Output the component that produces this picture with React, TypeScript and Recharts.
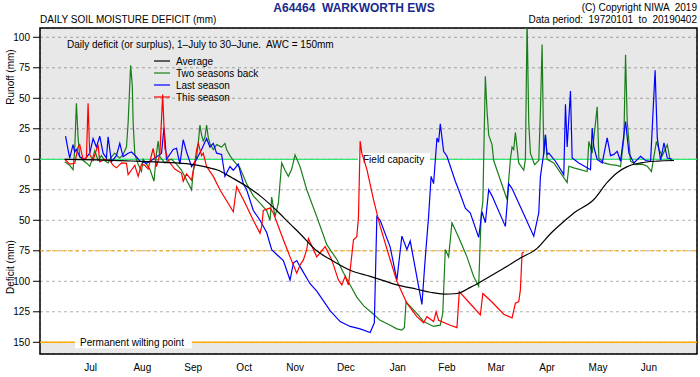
import React from "react";
import {
  LineChart,
  Line,
  XAxis,
  YAxis,
  CartesianGrid,
  ReferenceLine,
  ReferenceArea,
} from "recharts";

document.body.style.margin = "0";

const FONT = "Arial, 'Liberation Sans', Helvetica, sans-serif";

// days since 1 July
const monthStarts = [0, 31, 62, 92, 123, 153, 184, 215, 243, 274, 304, 335, 365];
const monthLabels = ["Jul", "Aug", "Sep", "Oct", "Nov", "Dec", "Jan", "Feb", "Mar", "Apr", "May", "Jun"];
const yTicks = [-150, -125, -100, -75, -50, -25, 0, 25, 50, 75, 100];

// [day, mm]  positive = runoff, negative = deficit
const average: [number, number][] = [
  [0, 0], [20, -0.5], [40, -1.4], [60, -2.5], [75, -4], [85, -6.5], [92, -9], [100, -15],
  [111, -24], [118, -31], [127, -42], [135, -53], [141, -61], [151, -75], [159, -82],
  [171, -91], [183, -96], [191, -99.5], [199, -103], [211, -106.5], [219, -109], [227, -110.5],
  [235, -110], [243, -105], [251, -99], [261, -91], [273, -81], [283, -73], [291, -61],
  [299, -51], [305, -44], [317, -33], [325, -19], [331, -11], [337, -6], [345, -3],
  [355, -1.5], [365, -1],
];

const twoSeasonsBack: [number, number][] = [
  [0, -2], [3, -5], [5, -8.5], [6, 8], [7, 46], [8, 18], [9, 2], [11, -1], [13, -3], [15, -5.6],
  [17, 2], [18, 7], [20, -1], [22, 3], [24, -1], [26, -3], [28, 2], [30, 5], [32, 2], [33, 1],
  [35, 4], [37, 10], [38, 30], [39.5, 77], [40.5, 60], [41, 30], [42, 4], [44, -4], [46, -10],
  [47, 0], [49, -4], [51, -8], [53.5, -18], [55, 5], [56, 15], [57, 2], [60, -3], [62, -1],
  [64, 0], [67, -4], [70, -9], [73, -17], [76, -25], [77, -10], [79, 2], [80, 13], [81, 28],
  [82, 20], [83, 15], [84, 18], [85, 28], [86, 18], [87, 13], [89, 8], [91, 12], [94, 10],
  [96, 13], [97, 8], [99, 3], [101, -1], [105, -7], [109, -20], [113, -30], [117, -36],
  [121, -42], [123, -50], [124, -31], [126, -47], [128, -36], [130, -3], [132, -9], [134, -14],
  [136, -8], [138, 3.5], [141, -6], [145, -25], [151, -47], [157, -70], [163, -82], [167, -93],
  [171, -103], [175, -113], [179, -120], [185, -127], [189, -132], [195, -136], [199, -139],
  [202, -140], [203.5, -138], [204.5, -117], [208, -122], [212, -128], [215, -133], [221, -137],
  [225, -136], [226.5, -126], [228, -74], [230, -80], [232, -52], [236, -64], [241, -80],
  [245, -96], [248, -104], [249.5, -45], [250.5, -35], [252, 68], [253, 40], [254, 20],
  [256, 12], [257, -1], [261, -17], [265, -33], [266, -17], [267, 0], [268, 10], [269, 8],
  [270, 22], [272, -3], [275, -9], [276, 0], [277, 115], [278, 30], [279, 5], [281.5, -4.4],
  [284, -1], [285, 40], [286, 94], [287, 4], [288, 20], [289, 0], [293, -3], [299, -15],
  [301, -19], [302, -5.7], [305, -7], [313, -10], [314, 14.7], [316, 5], [318, 30], [319, 43],
  [320, 1], [323, -3], [327, -4.4], [331, -5], [333, -6], [335, 17.5], [336, 85.7], [337, 31],
  [339, -1.6], [342, -4.4], [346, -4], [349, -5.7], [351.5, -10], [354.5, 14.7], [356, 8],
  [358, 3], [361, 12], [362.5, 1], [364, -1.6],
];

const lastSeason: [number, number][] = [
  [0.5, 19], [2, 8], [3, 1], [5, 12], [6, 6], [7, 8], [9, 2], [12, 0], [15, 5], [17, 17],
  [19, 10], [21, 19], [23, 5], [25, 1], [26, 18.5], [28, -2], [31, 3], [33, 13], [35, 2],
  [38, 5], [40, 6], [43, 2], [45, -1.5], [49, -3.3], [53, 0], [56, 3], [58, 5], [59.5, 26],
  [61, 0], [65, 8], [67, 9], [69, -4], [71, 16], [73, 6], [76, -6], [79, 0], [82, 8], [85, 17],
  [87, 10], [89, 13], [91, 5], [94, 4], [96, -14], [99, -6], [101, -9], [104, -4], [107, -20],
  [109, -25], [113, -42], [117, -50], [121, -60], [124, -74], [127, -78], [131, -83],
  [135, -99], [137, -85], [139, -83], [141, -88], [147, -102], [151, -108], [159, -124],
  [165, -133], [171, -137], [177, -139], [183, -142], [185.5, -134], [187, -47], [189, -50],
  [195, -72], [199, -99], [202, -63], [205, -74], [207, -67], [214, -119], [216, -81],
  [218, -47], [219.5, -14], [221, -20], [223, 17.5], [224, 14], [225, 29], [227, 6.6],
  [229, 2.5], [234, -18], [236, -25], [240, -40], [243, -44], [248, -64], [250, -43],
  [252, -52], [254, -25], [256, -30], [264, -55], [266, -20], [268, -24], [273, -39],
  [281, -63], [284, -44], [285, -14], [287, 5], [288, 20], [289, 4], [290, 5], [294, -1.6],
  [299, -12.6], [300, 45], [301, 10], [303, 56], [304, 1], [308, -3], [315, -8.5], [316, 25.6],
  [317, 10], [319, 0], [322, -3], [325, 17.5], [327, 3], [329, 4], [331, 6.6], [333, -1.6],
  [336, 31], [338, 5], [341, -3], [345, 2.5], [348, -1], [351, -1.6], [353.7, 73], [355, 17.5],
  [357, -1], [359, 13.4], [361, 1], [364, 0],
];

const thisSeason: [number, number][] = [
  [0, 0], [3, -4], [6, -3.3], [8, 10], [9, 12], [11, 0], [13, 1], [14, 46], [15, 4], [17, -1],
  [20, 12], [21, -2], [24, 0], [27, -1], [29, -5], [31, -7], [34, -3], [37, -3.3], [38, -12.6],
  [40, -8.8], [42, -5], [44, -14], [46, -4], [48, -5], [50, -8], [52, 3.5], [53, 9], [55, -6],
  [57, 4], [58.7, 53], [60, 9], [62, -1], [66, -8], [70, -11.5], [71, -18], [73, -12],
  [76, -17], [78, -2], [79, 7.6], [80, 13], [82, 3], [83, 5], [85, -6], [89, -14], [93, -25],
  [101, -43], [103, -22.5], [107, -33], [113, -50], [117, -60.6], [118, -55], [119, -42],
  [123, -40], [125, -44], [131, -66], [135, -80], [139, -93.4], [141, -86.6], [143, -82.5],
  [145, -74], [146, -65], [151, -80], [156, -71.6], [160, -82.5], [164, -99], [166, -103],
  [168, -96], [170, -103], [171, -91], [173, -66], [175, -63.4], [176, -47], [177, 15],
  [178, 5], [181, -8], [185, -33], [189, -55], [195, -82.5], [199, -100], [205, -118],
  [211, -129], [215, -134], [217, -129], [221, -133], [222.5, -125], [224, -132], [231, -136],
  [235, -138], [236.4, -108.5], [242, -117], [249, -127.6], [250.5, -110], [256, -117],
  [263, -127], [268, -130], [270, -118], [272, -116.7], [273, -107], [274, -77], [275, -76],
];

const X_DOMAIN: [number, number] = [-14.8, 378.8];
const Y_DOMAIN: [number, number] = [-159.6, 107.6];

const monthMids = monthLabels.map((_, i) => (monthStarts[i] + monthStarts[i + 1]) / 2);

const series = [
  { name: "Two seasons back", color: "#1a7d1a", data: twoSeasonsBack, type: "linear" },
  { name: "Last season", color: "#0000ff", data: lastSeason, type: "linear" },
  { name: "This season", color: "#ff0000", data: thisSeason, type: "linear" },
  { name: "Average", color: "#000000", data: average, type: "monotone" },
];
const legendOrder = ["Average", "Two seasons back", "Last season", "This season"];

const toPoints = (pts: [number, number][]) => pts.map(([d, v]) => ({ d, v }));

function BoxLabel({ viewBox, text, dx, w }: any) {
  const { x, y } = viewBox;
  return (
    <g>
      <rect x={x + dx} y={y - 6} width={w} height={12} fill="#fff" />
      <text x={x + dx + 5} y={y + 4} fontSize={10} fontFamily={FONT} fill="#000">
        {text}
      </text>
    </g>
  );
}

export default function App() {
  return (
    <div style={{ position: "relative", width: 700, height: 377, background: "#fff", fontFamily: FONT }}>
      <LineChart width={700} height={377} margin={{ top: 28, right: 3, bottom: 0, left: 0 }}>
        <ReferenceArea y1={0} y2={Y_DOMAIN[1]} fill="#000" fillOpacity={0.09} stroke="none" />
        <ReferenceArea y1={Y_DOMAIN[0]} y2={-150} fill="#000" fillOpacity={0.09} stroke="none" />
        <CartesianGrid strokeDasharray="3 3" stroke="#b0b0b0" />
        <XAxis
          dataKey="d"
          type="number"
          domain={X_DOMAIN}
          allowDataOverflow
          ticks={monthStarts}
          interval={0}
          tick={false}
          tickSize={5}
          tickLine={{ stroke: "#000" }}
          axisLine={false}
          height={6}
        />
        <XAxis
          xAxisId="m"
          dataKey="d"
          type="number"
          domain={X_DOMAIN}
          allowDataOverflow
          ticks={monthMids}
          interval={0}
          tickFormatter={(v: number) => monthLabels[monthMids.indexOf(v)]}
          tick={{ fill: "#000", fontSize: 10, fontFamily: FONT }}
          tickLine={false}
          tickSize={0}
          tickMargin={4}
          axisLine={false}
          height={17}
        />
        <YAxis
          type="number"
          domain={Y_DOMAIN}
          allowDataOverflow
          ticks={yTicks}
          interval={0}
          tickFormatter={(v: number) => String(Math.abs(v))}
          tick={{ fill: "#000", fontSize: 10, fontFamily: FONT }}
          tickLine={{ stroke: "#000" }}
          tickSize={7}
          tickMargin={3}
          axisLine={false}
          width={40}
        />
        <ReferenceLine y={-75} stroke="#ffa500" strokeDasharray="4 3" />
        <ReferenceLine
          y={0}
          stroke="#2ee870"
          strokeWidth={1.2}
          label={<BoxLabel text="Field capacity" dx={318} w={72} />}
        />
        <ReferenceLine
          y={-150}
          stroke="#ffaa00"
          strokeWidth={1.5}
          label={<BoxLabel text="Permanent wilting point" dx={35} w={117} />}
        />
        {series.map((s) => (
          <Line
            key={s.name}
            name={s.name}
            data={toPoints(s.data)}
            dataKey="v"
            type={s.type as any}
            stroke={s.color}
            strokeWidth={1.2}
            dot={false}
            activeDot={false}
            isAnimationActive={false}
          />
        ))}
        <ReferenceArea
          x1={X_DOMAIN[0]}
          x2={X_DOMAIN[1]}
          y1={Y_DOMAIN[0]}
          y2={Y_DOMAIN[1]}
          fill="none"
          stroke="#000"
          strokeWidth={1.5}
        />
      </LineChart>

      <svg
        width={700}
        height={377}
        style={{ position: "absolute", left: 0, top: 0, pointerEvents: "none" }}
        fontFamily={FONT}
      >
        <text x={354} y={12} textAnchor="middle" fontSize={12} fontWeight="bold" fill="#1a2a8c" style={{ whiteSpace: "pre" }}>
          A64464  WARKWORTH EWS
        </text>
        <text x={40} y={23} fontSize={10} fill="#000">
          DAILY SOIL MOISTURE DEFICIT (mm)
        </text>
        <text x={697} y={11} textAnchor="end" fontSize={10} fill="#000" style={{ whiteSpace: "pre" }}>
          (C) Copyright NIWA  2019
        </text>
        <text x={697} y={23} textAnchor="end" fontSize={10} fill="#000" style={{ whiteSpace: "pre" }}>
          Data period:  19720101  to  20190402
        </text>
        <text transform="translate(14,77) rotate(-90)" textAnchor="middle" fontSize={10} fill="#000">
          Runoff (mm)
        </text>
        <text transform="translate(14,267) rotate(-90)" textAnchor="middle" fontSize={10} fill="#000">
          Deficit (mm)
        </text>
        <text x={67} y={48} fontSize={10} fill="#000" style={{ whiteSpace: "pre" }}>
          Daily deficit (or surplus), 1–July to 30–June.  AWC = 150mm
        </text>
        {legendOrder.map((name, i) => {
          const s = series.find((q) => q.name === name)!;
          const y = 61 + i * 12;
          return (
            <g key={name}>
              <line x1={154} x2={170} y1={y} y2={y} stroke={s.color} strokeWidth={1.2} />
              <text x={176} y={y + 4} fontSize={10} fill="#000">
                {name}
              </text>
            </g>
          );
        })}
      </svg>
    </div>
  );
}
